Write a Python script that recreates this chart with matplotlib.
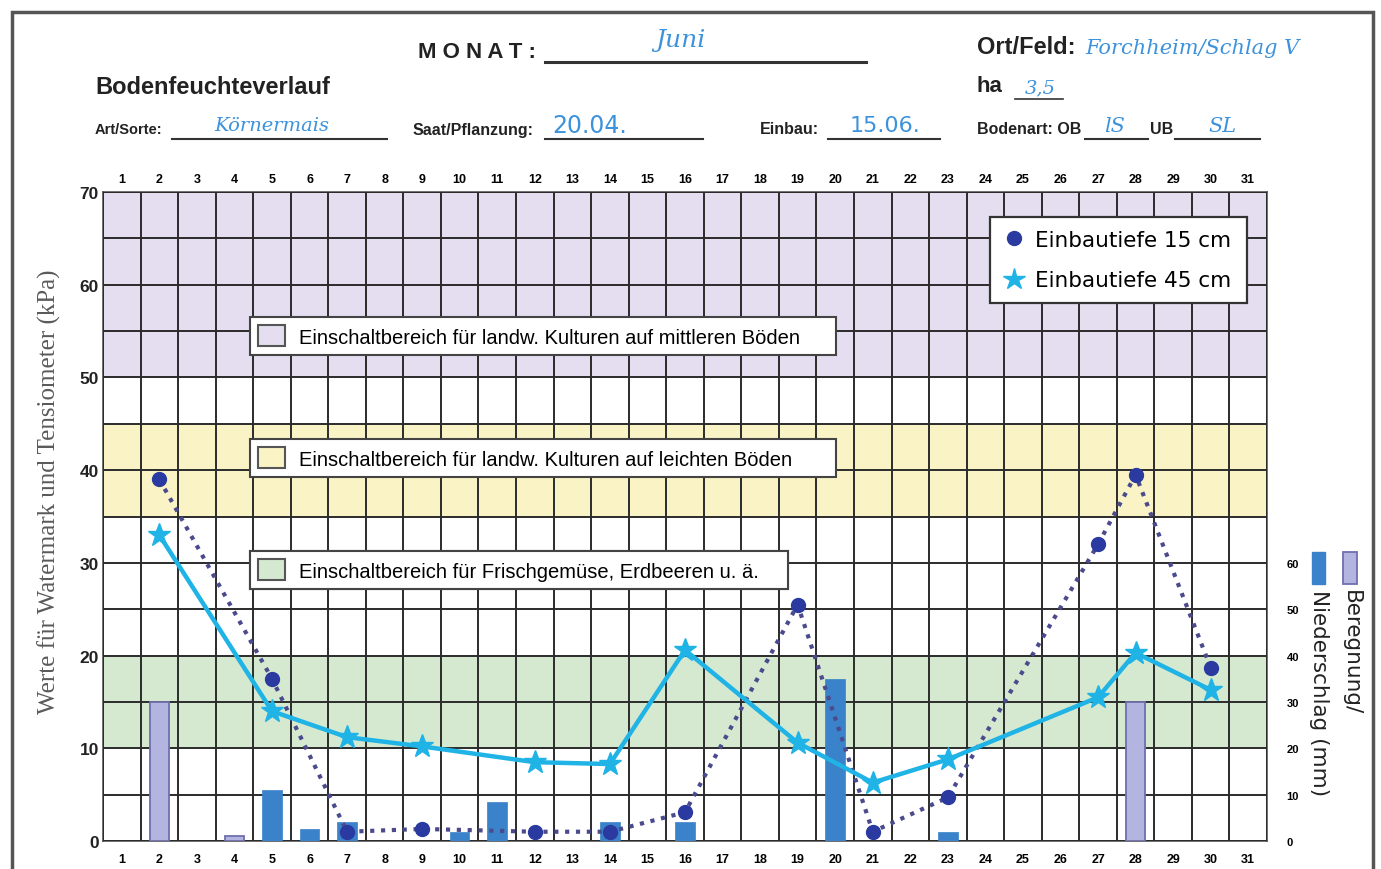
import numpy as np
import matplotlib
matplotlib.use("Agg")
import matplotlib.pyplot as plt
from matplotlib.patches import Patch, Rectangle
from matplotlib.lines import Line2D

# ---------------- data ----------------
days = list(range(1, 32))
meas_days = [2, 5, 7, 9, 12, 14, 16, 19, 21, 23, 27, 28, 30]
depth15 = [39, 17.5, 1.0, 1.3, 1.0, 1.0, 3.1, 25.5, 1.0, 4.7, 32, 39.5, 18.7]
depth45 = [33, 14, 11.2, 10.2, 8.5, 8.3, 20.6, 10.6, 6.3, 8.8, 15.5, 20.3, 16.3]
beregnung_days = [2, 4, 28]
beregnung_mm = [30, 1, 30]
nieder_days = [5, 6, 7, 10, 11, 14, 16, 20, 23]
nieder_mm = [11, 2.5, 4, 2, 8.5, 4, 4, 35, 2]
bands = [(50, 70, '#e4def0'), (35, 45, '#faf3c6'), (10, 20, '#d5e9d0')]
band_labels = ["Einschaltbereich für landw. Kulturen auf mittleren Böden",
               "Einschaltbereich für landw. Kulturen auf leichten Böden",
               "Einschaltbereich für Frischgemüse, Erdbeeren u. ä."]
kpa_ticks = [0, 10, 20, 30, 40, 50, 60, 70]
mm_ticks = [0, 10, 20, 30, 40, 50, 60]

W, H = 1381, 870
fig = plt.figure(figsize=(W / 100, H / 100), dpi=100)
fig.patch.set_facecolor('white')

def fx(px):
    return px / W

def fy(py):
    return 1 - py / H

pos = [fx(103), fy(842), fx(1267) - fx(103), fy(193) - fy(842)]
GRID = '#2b2b2b'

# background axes: bands + grid
ax = fig.add_axes(pos)
ax.set_xlim(0.5, 31.5)
ax.set_ylim(0, 70)
for lo, hi, c in bands:
    ax.axhspan(lo, hi, color=c, zorder=0, lw=0)
ax.set_xticks(days)
ax.set_xticks(np.arange(0.5, 32, 1), minor=True)
ax.set_yticks(kpa_ticks)
ax.set_yticks(np.arange(0, 71, 5), minor=True)
ax.grid(which='minor', color=GRID, lw=1.4, zorder=1)
ax.grid(which='major', axis='y', color=GRID, lw=1.4, zorder=1)
ax.set_axisbelow(False)
ax.tick_params(axis='x', which='both', length=0, pad=9)
ax.tick_params(axis='y', which='both', length=0, pad=3)
for lab in ax.get_xticklabels():
    lab.set_fontsize(9)
    lab.set_fontweight('bold')
    lab.set_fontfamily('Liberation Sans')
for lab in ax.get_yticklabels():
    lab.set_fontsize(12.5)
    lab.set_fontweight('bold')
    lab.set_fontfamily('Liberation Sans')
    lab.set_color('#222222')
for s in ax.spines.values():
    s.set_color('#555555')
    s.set_linewidth(1.2)
ax.set_ylabel("Werte für Watermark und Tensiometer (kPa)", family='Liberation Serif',
              fontsize=18, color='#5a5a5a')
ax.yaxis.set_label_coords(-0.036, 0.539)

secx = ax.secondary_xaxis('top')
secx.set_xticks(days)
secx.tick_params(length=0, pad=5)
for lab in secx.get_xticklabels():
    lab.set_fontsize(9)
    lab.set_fontweight('bold')
    lab.set_fontfamily('Liberation Sans')
for s in secx.spines.values():
    s.set_visible(False)

# bar axes (mm)
axb = ax.twinx()
axb.set_ylim(0, 140)
axb.set_yticks(mm_ticks)
axb.tick_params(axis='y', length=0, pad=14)
for lab in axb.get_yticklabels():
    lab.set_fontsize(8)
    lab.set_fontweight('bold')
    lab.set_fontfamily('Liberation Sans')
for s in axb.spines.values():
    s.set_visible(False)
axb.patch.set_visible(False)
axb.bar(beregnung_days, beregnung_mm, width=0.52, color='#b4b4e0', edgecolor='#6f6fae', lw=1.3, zorder=2)
axb.bar(nieder_days, nieder_mm, width=0.52, color='#3a82c9', edgecolor='#3a82c9', lw=0.5, zorder=2)

# line axes (kPa)
axl = fig.add_axes(pos, sharex=ax, sharey=ax)
axl.patch.set_visible(False)
axl.axis('off')
axl.plot(meas_days, depth15, linestyle=(0, (1, 1.6)), color='#4a4a8c', lw=3, zorder=3)
axl.plot(meas_days, depth15, 'o', color='#2a3aa0', ms=10, zorder=4)
axl.plot(meas_days, depth45, '-', color='#1fb3e6', lw=3.2, zorder=3)
axl.plot(meas_days, depth45, '*', color='#1fb3e6', ms=17, zorder=4)

# main legend
h1 = Line2D([], [], marker='o', color='#2a3aa0', ls='None', ms=10)
h2 = Line2D([], [], marker='*', color='#1fb3e6', ls='None', ms=16)
leg = axl.legend([h1, h2], ["Einbautiefe 15 cm", "Einbautiefe 45 cm"], loc='upper left',
                 bbox_to_anchor=(fx(990), fy(307), fx(1247) - fx(990), fy(218) - fy(307)),
                 bbox_transform=fig.transFigure, mode='expand',
                 borderaxespad=0, fancybox=False, framealpha=1, edgecolor='#333333',
                 prop={'family': 'DejaVu Sans', 'size': 15.5}, handlelength=1.0,
                 handletextpad=0.5, borderpad=0.6, labelspacing=0.95)
leg.get_frame().set_linewidth(1.6)
axl.add_artist(leg)

# band legends
band_box = [(250, 318, 836), (250, 440, 836), (250, 552, 788)]
for (lo, hi, c), lbl, (px, py, pr) in zip(bands, band_labels, band_box):
    hp = Patch(facecolor=c, edgecolor='#555555', linewidth=1.5)
    lg = axl.legend([hp], [lbl], loc='upper left',
                    bbox_to_anchor=(fx(px), fy(py + 37), fx(pr) - fx(px), fy(py) - fy(py + 37)),
                    bbox_transform=fig.transFigure, mode='expand', borderaxespad=0, fancybox=False,
                    framealpha=1, edgecolor='#444444',
                    prop={'family': 'Liberation Sans', 'size': 14.5},
                    handlelength=1.3, handleheight=1.2, handletextpad=0.7, borderpad=0.42)
    lg.get_frame().set_linewidth(1.5)
    axl.add_artist(lg)

# secondary legend (rotated)
fig.patches.append(Rectangle((fx(1312), fy(585)), fx(13), fy(553) - fy(585), transform=fig.transFigure,
                             facecolor='#3a82c9', edgecolor='#3a82c9', zorder=5))
fig.patches.append(Rectangle((fx(1343), fy(585)), fx(14), fy(553) - fy(585), transform=fig.transFigure,
                             facecolor='#b4b4e0', edgecolor='#6f6fae', lw=1.3, zorder=5))
fig.text(fx(1351), fy(590), "Beregnung/", rotation=270, ha='center', va='top',
         family='DejaVu Sans', fontsize=15.5, color='#222222')
fig.text(fx(1319), fy(590), "Niederschlag (mm)", rotation=270, ha='center', va='top',
         family='DejaVu Sans', fontsize=15.5, color='#222222')

# outer frame
fig.patches.append(Rectangle((fx(12), fy(880)), fx(1373 - 12), fy(13) - fy(880), transform=fig.transFigure,
                             facecolor='none', edgecolor='#555555', lw=2.5, zorder=6))

# header texts
HW = '#3d92dc'
def hline(x0, x1, y, lw=1.5):
    fig.add_artist(Line2D([fx(x0), fx(x1)], [fy(y), fy(y)], color='#333333', lw=lw, transform=fig.transFigure))

fig.text(fx(418), fy(52), "M O N A T :", family='Liberation Sans', weight='bold', fontsize=16,
         va='center', ha='left', color='#222222')
hline(545, 866, 63, 2.2)
fig.text(fx(680), fy(40), "Juni", family='DejaVu Serif', style='italic', fontsize=18, color=HW,
         va='center', ha='center')
fig.text(fx(95), fy(87), "Bodenfeuchteverlauf", family='Liberation Sans', weight='bold', fontsize=17,
         va='center', ha='left', color='#222222')
fig.text(fx(977), fy(48), "Ort/Feld:", family='Liberation Sans', weight='bold', fontsize=17,
         va='center', ha='left', color='#222222')
fig.text(fx(1085), fy(48), "Forchheim/Schlag V", family='DejaVu Serif', style='italic', fontsize=15,
         color=HW, va='center', ha='left')
fig.text(fx(977), fy(87), "ha", family='Liberation Sans', weight='bold', fontsize=16,
         va='center', ha='left', color='#222222')
hline(1015, 1063, 100, 1.2)
fig.text(fx(1040), fy(88), "3,5", family='DejaVu Serif', style='italic', fontsize=14, color=HW,
         va='center', ha='center')

def small(x, y, s, size):
    fig.text(fx(x), fy(y), s, family='Liberation Sans', weight='bold', fontsize=size, va='center',
             ha='left', color='#222222')

small(95, 130, "Art/Sorte:", 10.5)
hline(172, 387, 140)
fig.text(fx(272), fy(126), "Körnermais", family='DejaVu Serif', style='italic', fontsize=14, color=HW,
         va='center', ha='center')
small(413, 130, "Saat/Pflanzung:", 11.5)
hline(545, 703, 140)
fig.text(fx(590), fy(126), "20.04.", family='DejaVu Sans', fontsize=17, color=HW,
         va='center', ha='center')
small(760, 130, "Einbau:", 11.5)
hline(828, 940, 140)
fig.text(fx(885), fy(126), "15.06.", family='DejaVu Sans', fontsize=16, color=HW,
         va='center', ha='center')
small(977, 130, "Bodenart: OB", 11.5)
hline(1085, 1148, 140)
fig.text(fx(1115), fy(126), "lS", family='DejaVu Serif', style='italic', fontsize=15, color=HW,
         va='center', ha='center')
small(1150, 130, "UB", 11.5)
hline(1175, 1260, 140)
fig.text(fx(1222), fy(126), "SL", family='DejaVu Serif', style='italic', fontsize=15, color=HW,
         va='center', ha='center')

fig.savefig("out.png", dpi=100)
